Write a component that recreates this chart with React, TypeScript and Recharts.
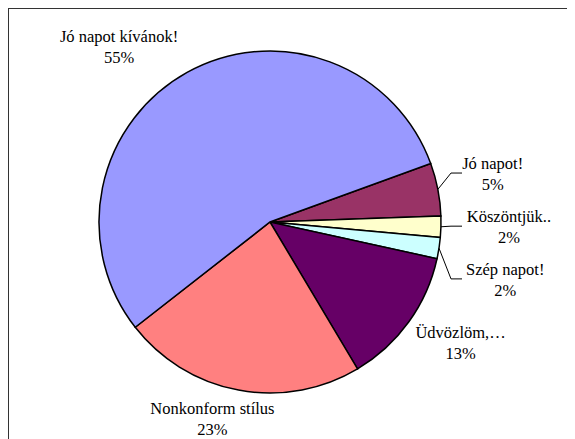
import React from "react";
import { PieChart, Pie, Cell } from "recharts";

// Adatok - a diagramról leolvasva
const categories = [
  "Jó napot!",
  "Köszöntjük..",
  "Szép napot!",
  "Üdvözlöm,…",
  "Nonkonform stílus",
  "Jó napot kívánok!",
];
const shares = [5, 2, 2, 13, 23, 55];

const colors = ["#993366", "#FFFFCC", "#CCFFFF", "#660066", "#FF8080", "#9999FF"];

// címkék elhelyezése: szög-eltolás (fok) és távolság a középponttól
const labelAngleShift = [1.4, 0.6, -4.8, 3.7, -5.8, 11.6];
const labelRadius = [228, 239, 242, 225, 204, 232];
const hasLeader = [true, true, true, false, false, false];

const data = categories.map((name, i) => ({ name, value: shares[i] }));

const RAD = Math.PI / 180;
const FONT = '"Liberation Serif", "Times New Roman", serif';

const renderLabel = (props: any) => {
  const { cx, cy, midAngle, outerRadius, index, percent, name } = props;
  const a = (midAngle + labelAngleShift[index]) * RAD;
  const r = labelRadius[index];
  const lx = cx + r * Math.cos(a);
  const ly = cy - r * Math.sin(a);

  let leader = null;
  if (hasLeader[index]) {
    const sx = cx + outerRadius * Math.cos(midAngle * RAD);
    const sy = cy - outerRadius * Math.sin(midAngle * RAD);
    const ex = cx + outerRadius + 21;
    const bx = cx + outerRadius + 10;
    leader = (
      <polyline
        points={`${sx},${sy} ${bx},${ly} ${ex},${ly}`}
        fill="none"
        stroke="#000"
        strokeWidth={1}
      />
    );
  }

  return (
    <g key={`lbl-${index}`}>
      {leader}
      <text
        x={lx}
        y={ly}
        textAnchor="middle"
        fill="#000"
        fontFamily={FONT}
        fontSize={16.5}
      >
        <tspan x={lx} y={ly - 4}>{name}</tspan>
        <tspan x={lx} y={ly + 17}>{`${Math.round(percent * 100)}%`}</tspan>
      </text>
    </g>
  );
};

export default function App() {
  return (
    <div
      style={{
        width: 566,
        height: 430,
        borderTop: "1px solid #333",
        borderLeft: "1px solid #333",
        overflow: "hidden",
        background: "#fff",
      }}
    >
      <style>{"html,body{overflow:hidden}"}</style>
      <PieChart width={566} height={430} margin={{ top: 0, right: 0, bottom: 0, left: 0 }}>
        <Pie
          data={data}
          dataKey="value"
          nameKey="name"
          cx={261}
          cy={213}
          outerRadius={171}
          startAngle={20}
          endAngle={-340}
          stroke="#000"
          strokeWidth={1.5}
          label={renderLabel}
          labelLine={false}
          isAnimationActive={false}
        >
          {data.map((d, i) => (
            <Cell key={d.name} fill={colors[i]} />
          ))}
        </Pie>
      </PieChart>
    </div>
  );
}
